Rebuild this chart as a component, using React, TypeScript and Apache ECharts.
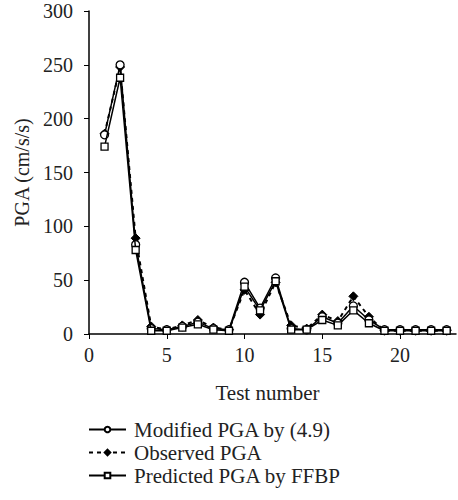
import React, { useEffect, useRef } from "react";
import * as echarts from "echarts";

const tests = [1, 2, 3, 4, 5, 6, 7, 8, 9, 10, 11, 12, 13, 14, 15, 16, 17, 18, 19, 20, 21, 22, 23];
const modified = [185, 250, 83, 5, 4, 7, 11, 5, 4, 48, 24, 52, 5, 4, 16, 10, 26, 13, 4, 4, 4, 4, 4];
const observed = [186, 248, 89, 7, 4, 8, 13, 6, 4, 41, 18, 48, 8, 5, 18, 12, 35, 16, 3, 3, 3, 3, 3];
const predicted = [174, 238, 78, 3, 3, 6, 9, 4, 3, 44, 22, 49, 4, 4, 13, 8, 22, 10, 3, 3, 3, 3, 3];
const xTicks = [0, 5, 10, 15, 20];
const yTicks = [0, 50, 100, 150, 200, 250, 300];
const seriesNames = ["Modified PGA by (4.9)", "Observed PGA", "Predicted PGA by FFBP"];

const FONT = "Liberation Serif";
const TXT = "#222";

export default function App() {
  const ref = useRef<HTMLDivElement>(null);
  useEffect(() => {
    if (!ref.current) return;
    const chart = echarts.init(ref.current, null, { renderer: "svg" });
    const pairs = (vals: number[]) => tests.map((t, i) => [t, vals[i]]);
    chart.setOption({
      animation: false,
      backgroundColor: "#fff",
      textStyle: { fontFamily: FONT, color: TXT },
      grid: { left: 89, right: 2, top: 11, bottom: 166, containLabel: false },
      xAxis: {
        type: "value",
        min: 0,
        max: 23.6,
        interval: 5,
        name: "Test number",
        nameLocation: "middle",
        nameGap: 48,
        nameTextStyle: { fontFamily: FONT, fontSize: 21, color: TXT, padding: [0, 10, 0, 0] },
        axisLine: { show: true, lineStyle: { color: "#000", width: 1.5 } },
        axisTick: { show: true, length: 5, lineStyle: { color: "#000" }, customValues: xTicks },
        axisLabel: { fontFamily: FONT, fontSize: 20, color: TXT, margin: 11, customValues: xTicks },
        splitLine: { show: false },
      },
      yAxis: {
        type: "value",
        min: 0,
        max: 300,
        interval: 50,
        name: "PGA (cm/s/s)",
        nameLocation: "middle",
        nameGap: 56,
        nameTextStyle: { fontFamily: FONT, fontSize: 20, color: TXT },
        axisLine: { show: true, lineStyle: { color: "#000", width: 1.5 } },
        axisTick: { show: true, length: 5, lineStyle: { color: "#000" }, customValues: yTicks },
        axisLabel: { fontFamily: FONT, fontSize: 20, color: TXT, margin: 16, customValues: yTicks },
        splitLine: { show: false },
      },
      legend: {
        orient: "vertical",
        left: 83,
        top: 414,
        itemWidth: 37,
        itemHeight: 7,
        itemGap: 2,
        textStyle: { fontFamily: FONT, fontSize: 21, color: TXT, padding: [0, 0, 0, 3] },
        data: seriesNames,
      },
      series: [
        {
          name: seriesNames[0],
          type: "line",
          data: pairs(modified),
          symbol: "circle",
          symbolSize: 8,
          lineStyle: { color: "#000", width: 1.5 },
          itemStyle: { color: "#fff", borderColor: "#000", borderWidth: 1.3 },
          z: 3,
        },
        {
          name: seriesNames[1],
          type: "line",
          data: pairs(observed),
          symbol: "diamond",
          symbolSize: 9,
          lineStyle: { color: "#000", width: 2, type: [4, 4] },
          itemStyle: { color: "#000", borderColor: "#000", borderWidth: 1 },
          z: 2,
        },
        {
          name: seriesNames[2],
          type: "line",
          data: pairs(predicted),
          symbol: "rect",
          symbolSize: 7,
          lineStyle: { color: "#000", width: 1.5 },
          itemStyle: { color: "#fff", borderColor: "#000", borderWidth: 1.3 },
          z: 4,
        },
      ],
    });
    return () => chart.dispose();
  }, []);
  return <div ref={ref} style={{ width: 458, height: 500, position: "absolute", left: 0, top: 0 }} />;
}
